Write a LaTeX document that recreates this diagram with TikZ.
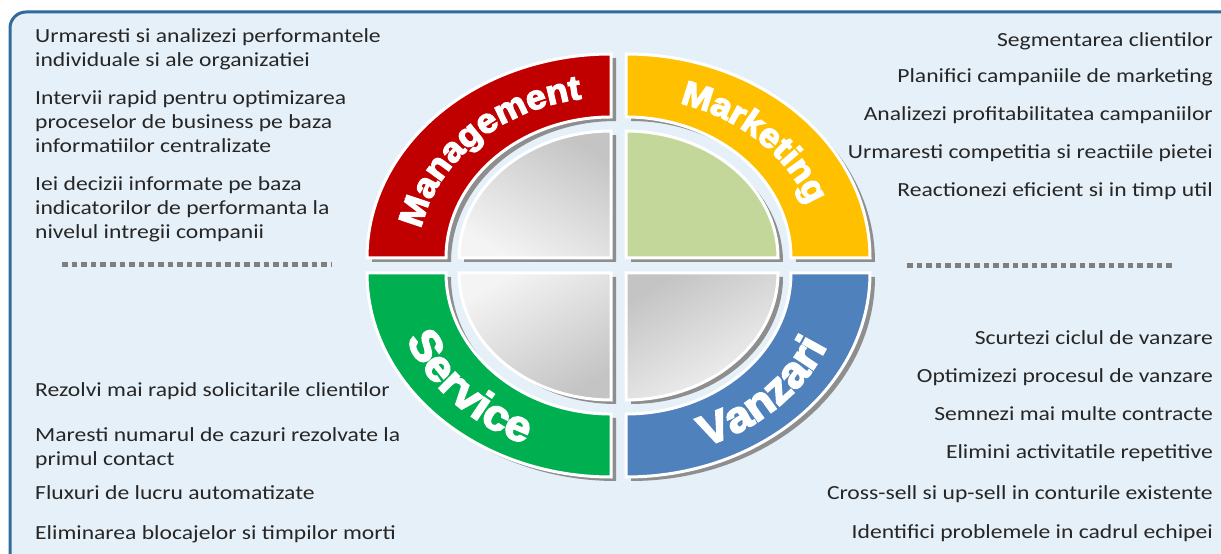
\documentclass[tikz,border=0pt]{standalone}
\usepackage{fontspec}
\setmainfont{Carlito}[FakeStretch=1.18]
\newfontfamily\bandfont{Liberation Sans}[FakeStretch=1.06, LetterSpace=6, BoldFeatures={FakeBold=4}]
\usetikzlibrary{decorations.text}

\definecolor{framebg}{HTML}{E6F0F8}
\definecolor{frameblue}{HTML}{2F6B9C}
\definecolor{bodytext}{HTML}{262626}
\definecolor{shadowgray}{HTML}{8E8E8E}
\definecolor{dotgray}{HTML}{7F7F7F}
\definecolor{mgmtred}{HTML}{C00000}
\definecolor{mktyellow}{HTML}{FFC000}
\definecolor{srvgreen}{HTML}{00B050}
\definecolor{salesblue}{HTML}{4F81BD}
\definecolor{mktdisk}{HTML}{C4D79B}
\definecolor{disklight}{HTML}{F4F4F4}
\definecolor{diskdark}{HTML}{C4C4C4}

% label fonts for the curved band titles
\newcommand\labelA{\bandfont\bfseries\fontsize{34}{34}\selectfont}
\newcommand\labelB{\bandfont\bfseries\fontsize{43}{43}\selectfont}

% one quarter of the wheel: #1 corner, #2 start angle, #3 end angle,
% #4 band colour, #5 disk fill options
\newcommand\quadrant[5]{%
  \begin{scope}[shift={(#1)}]
    \begin{scope}[shift={(5,-4)}]
      \fill[shadowgray] (#2:244 and 204)
        arc[start angle=#2, end angle=#3, x radius=244, y radius=204]
        -- (#3:165 and 141)
        arc[start angle=#3, end angle=#2, x radius=165, y radius=141] -- cycle;
      \fill[shadowgray] (0,0) -- (#2:152 and 127)
        arc[start angle=#2, end angle=#3, x radius=152, y radius=127] -- cycle;
    \end{scope}
    \fill[#4, draw=white, line width=3pt] (#2:244 and 204)
      arc[start angle=#2, end angle=#3, x radius=244, y radius=204]
      -- (#3:165 and 141)
      arc[start angle=#3, end angle=#2, x radius=165, y radius=141] -- cycle;
    \path[#5, draw=white, line width=3pt] (0,0) -- (#2:152 and 127)
      arc[start angle=#2, end angle=#3, x radius=152, y radius=127] -- cycle;
  \end{scope}}

\tikzset{
  lt/.style={anchor=base west, inner sep=0pt, text=bodytext, font=\fontsize{20}{24}\selectfont},
  rt/.style={anchor=base east, inner sep=0pt, text=bodytext, font=\fontsize{20}{24}\selectfont},
  dotline/.style={dotgray, line width=5pt, dash pattern=on 5.5pt off 4.1pt},
}

\begin{document}
\begin{tikzpicture}[x=1pt, y=1pt]
\useasboundingbox (0,0) rectangle (1221,554);
\fill[white] (0,0) rectangle (1221,554);
\draw[frameblue, line width=3pt, fill=framebg, rounded corners=16pt] (10,542) rectangle (1245,-20);

% the four quarters
\quadrant{611,296}{90}{180}{mgmtred}{top color=diskdark, bottom color=disklight, shading angle=-30}
\quadrant{626,296}{0}{90}{mktyellow}{fill=mktdisk}
\quadrant{611,281}{180}{270}{srvgreen}{top color=disklight, bottom color=diskdark, shading angle=30}
\quadrant{626,281}{270}{360}{salesblue}{top color=diskdark, bottom color=disklight, shading angle=30}

% curved titles
\path[decorate, decoration={text along path, text={|\labelA\color{white}|Management}, text align=center}]
  (611,296) ++(180:193 and 161) arc[start angle=180, end angle=90, x radius=193, y radius=161];
\path[decorate, decoration={text along path, text={|\labelA\color{white}|Marketing}, text align=center}]
  (626,296) ++(90:193 and 161) arc[start angle=90, end angle=0, x radius=193, y radius=161];
\path[decorate, decoration={text along path, text={|\labelB\color{white}|Service}, text align=center}]
  (611,281) ++(174:219 and 186) arc[start angle=174, end angle=270, x radius=219, y radius=186];
\path[decorate, decoration={text along path, text={|\labelB\color{white}|Vanzari}, text align=center}]
  (626,281) ++(266:219 and 186) arc[start angle=266, end angle=366, x radius=219, y radius=186];

% separators
\draw[dotline] (62,289) -- (332,289);
\draw[dotline] (907,288) -- (1175,288);

% left column
\foreach \txt/\y [count=\i] in {
  Urmaresti si analizezi performantele/43,
  individuale si ale organizatiei/67,
  Intervii rapid pentru optimizarea/105,
  proceselor de business pe baza/129,
  informatiilor centralizate/153,
  Iei decizii informate pe baza/191,
  indicatorilor de performanta la/215,
  nivelul intregii companii/239,
  Rezolvi mai rapid solicitarile clientilor/397,
  Maresti numarul de cazuri rezolvate la/442,
  primul contact/466,
  Fluxuri de lucru automatizate/500,
  Eliminarea blocajelor si timpilor morti/540}
  \node[lt] (left\i) at (35,554-\y) {\txt};

% right column
\foreach \txt/\y [count=\i] in {
  Segmentarea clientilor/47,
  Planifici campaniile de marketing/83,
  Analizezi profitabilitatea campaniilor/121,
  Urmaresti competitia si reactiile pietei/159,
  Reactionezi eficient si in timp util/197,
  Scurtezi ciclul de vanzare/345,
  Optimizezi procesul de vanzare/383,
  Semnezi mai multe contracte/421,
  Elimini activitatile repetitive/459,
  Cross-sell si up-sell in conturile existente/500,
  Identifici problemele in cadrul echipei/539}
  \node[rt] (right\i) at (1213,554-\y) {\txt};
\end{tikzpicture}
\end{document}
